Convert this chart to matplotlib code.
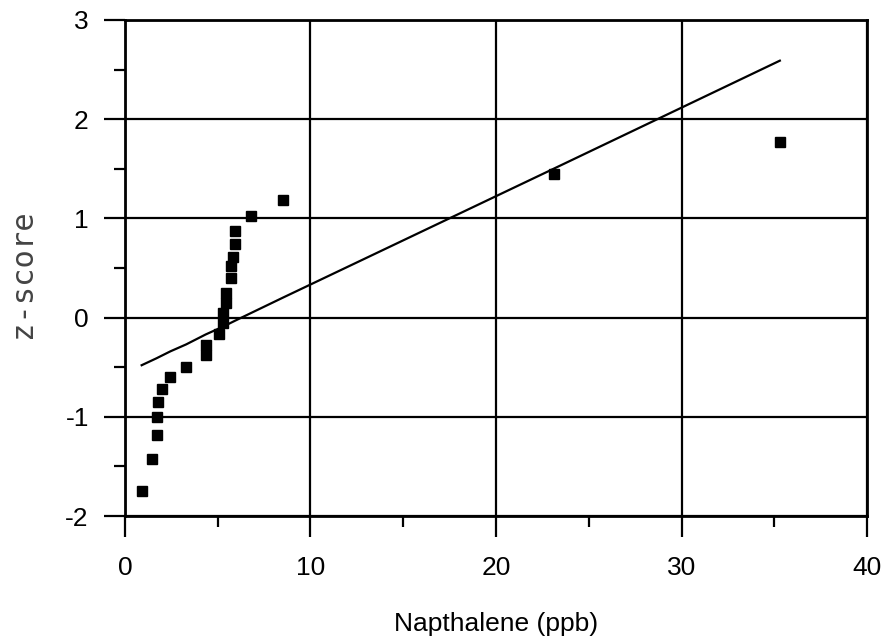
import numpy as np
import matplotlib
matplotlib.use('Agg')
import matplotlib.pyplot as plt
from matplotlib.ticker import MultipleLocator

# data
napthalene = [0.9, 1.45, 1.7, 1.7, 1.8, 2.0, 2.45, 3.3, 4.35, 4.35, 5.05, 5.3,
              5.3, 5.45, 5.45, 5.7, 5.7, 5.85, 5.95, 5.95, 6.8, 8.5, 23.1, 35.3]
zscore = [-1.75, -1.43, -1.18, -1.0, -0.85, -0.72, -0.6, -0.5, -0.38, -0.28, -0.17, -0.05,
          0.05, 0.15, 0.25, 0.4, 0.52, 0.61, 0.74, 0.87, 1.02, 1.19, 1.45, 1.77]

# fitted line, points
fit_x = [0.9, 1.7, 2.45, 3.3, 4.35, 5.3, 5.95, 8.5, 23.1, 35.3]
fit_y = [-0.48, -0.41, -0.34, -0.27, -0.17, -0.09, -0.03, 0.20, 1.50, 2.59]

plt.rcParams['font.family'] = ['Liberation Sans', 'DejaVu Sans']
plt.rcParams['axes.unicode_minus'] = False

fig = plt.figure(figsize=(8.85, 6.43), dpi=100)
ax = fig.add_axes([0.1412, 0.1975, 0.8385, 0.7714])

# grid
ax.set_axisbelow(True)
ax.grid(True, which='major', color='black', linewidth=1.6)

ax.plot(fit_x, fit_y, color='black', linewidth=1.6, zorder=3)
ax.plot(napthalene, zscore, 's', color='black', markersize=7, zorder=4)

ax.set_xlim(0, 40)
ax.set_ylim(-2, 3)
ax.xaxis.set_major_locator(MultipleLocator(10))
ax.xaxis.set_minor_locator(MultipleLocator(5))
ax.yaxis.set_major_locator(MultipleLocator(1))
ax.yaxis.set_minor_locator(MultipleLocator(0.5))
ax.tick_params(which='major', direction='out', length=15, width=1.6, labelsize=19)
ax.tick_params(axis='x', which='major', pad=14)
ax.tick_params(axis='y', which='major', pad=11)
ax.tick_params(which='minor', direction='out', length=8, width=1.6)
for s in ax.spines.values():
    s.set_linewidth(2)

ax.set_xlabel('Napthalene (ppb)', fontsize=19, labelpad=23)
fig.text(0.025, 0.574, 'z-score', rotation=90, va='center', ha='center',
         fontsize=22, color='#444444', family='DejaVu Sans Mono')

fig.savefig('out.png', dpi=100)
